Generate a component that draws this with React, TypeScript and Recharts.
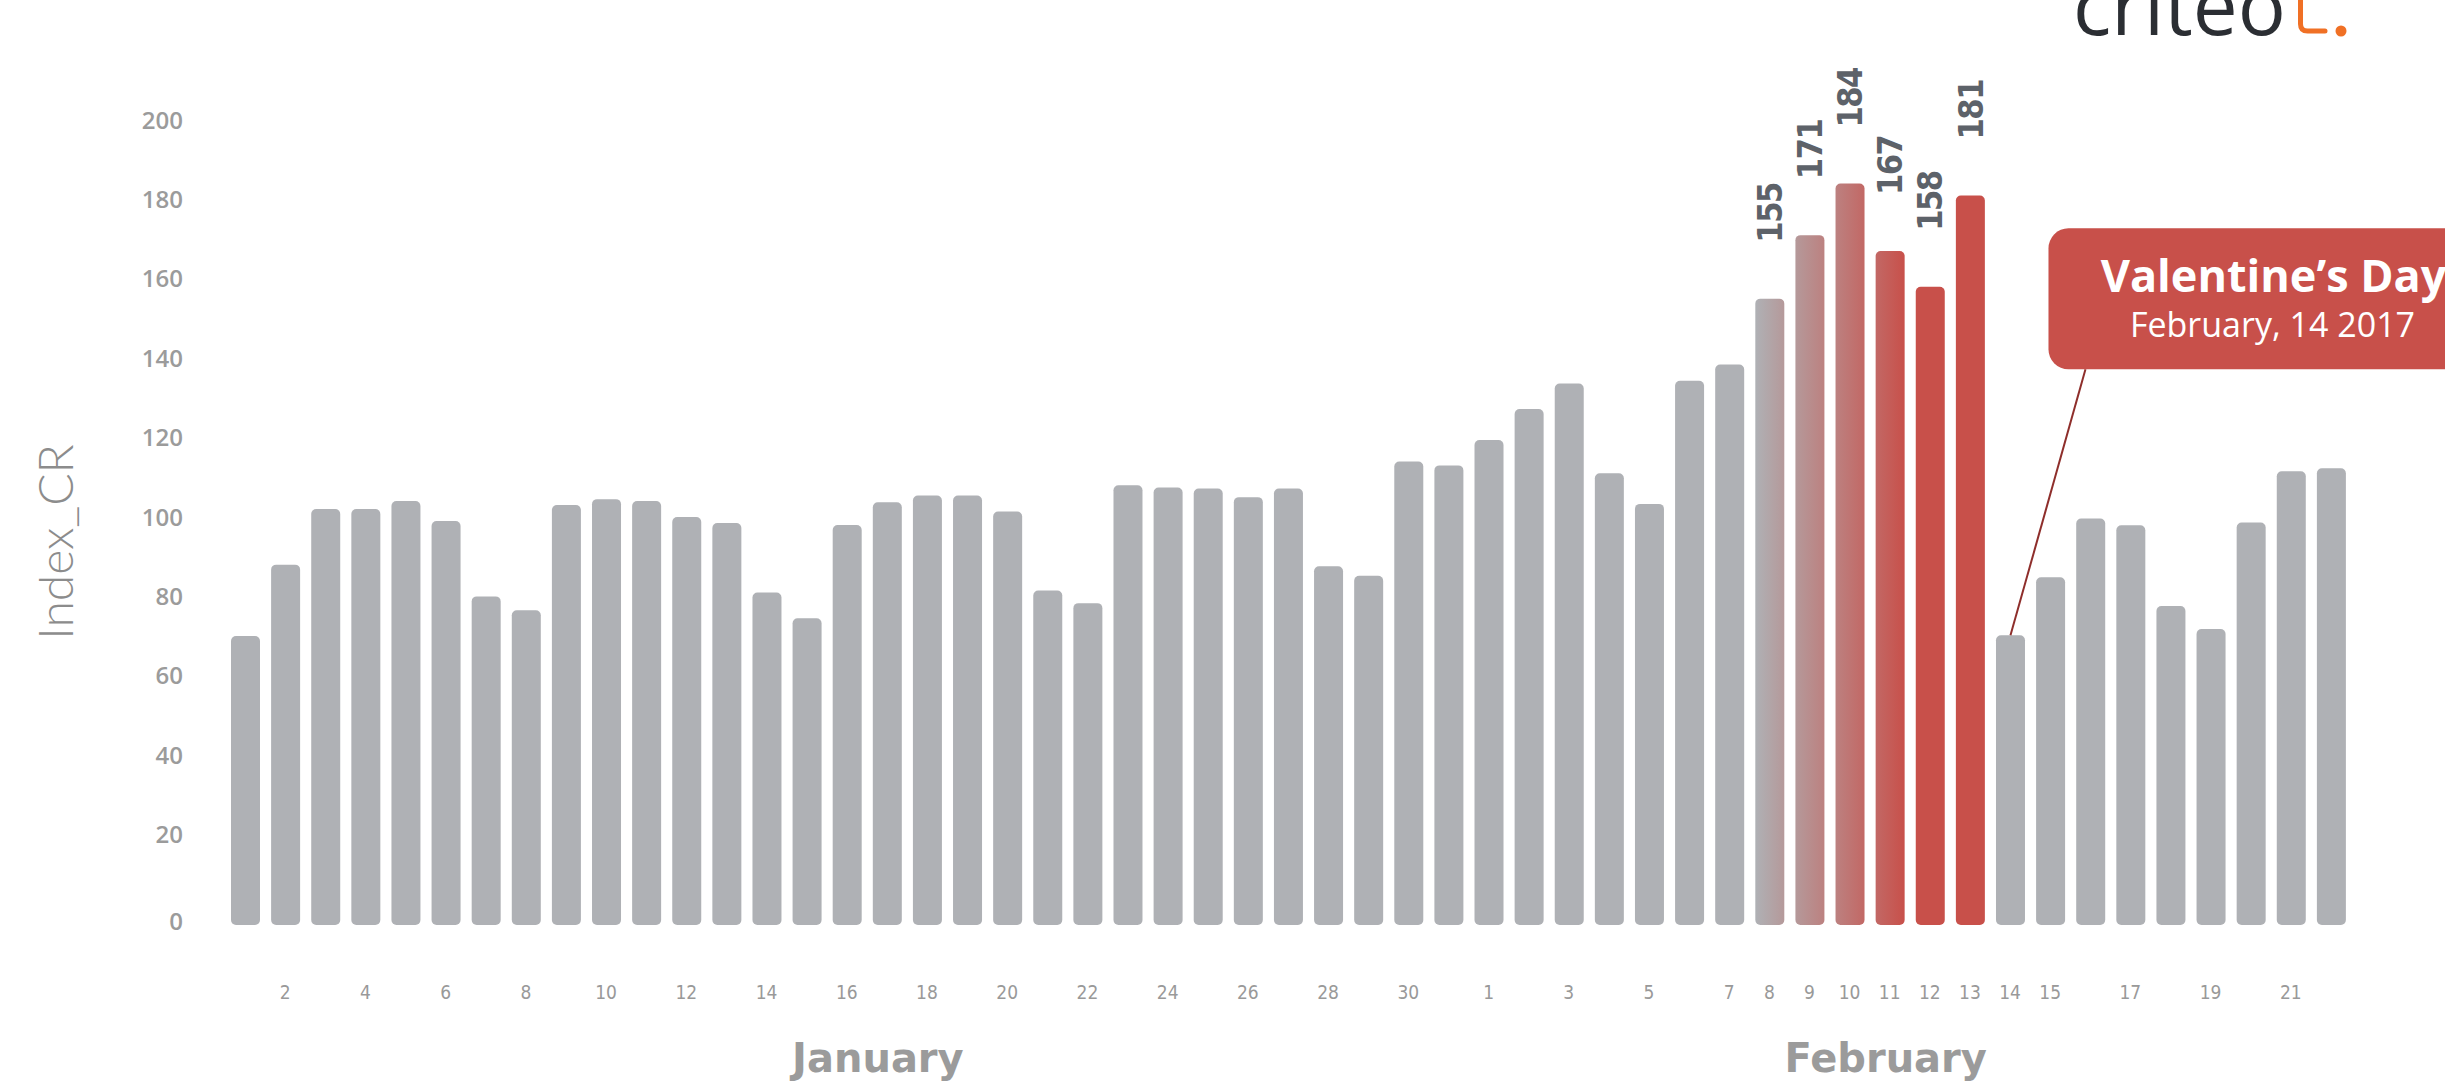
import React from 'react';
import { BarChart, Bar, XAxis, YAxis } from 'recharts';

// ---------- data ----------
const janDays = [1, 2, 3, 4, 5, 6, 7, 8, 9, 10, 11, 12, 13, 14, 15, 16, 17, 18, 19, 20, 21, 22, 23, 24, 25, 26, 27, 28, 29, 30, 31];
const febDays = [1, 2, 3, 4, 5, 6, 7, 8, 9, 10, 11, 12, 13, 14, 15, 16, 17, 18, 19, 20, 21, 22];

const janValues = [70, 88, 102, 102, 104, 99, 80, 76.5, 103, 104.5, 104, 100, 98.5, 81, 74.5, 98, 103.7, 105.4, 105.4, 101.4, 81.5, 78.3, 108, 107.4, 107.2, 105, 107.2, 87.6, 85.2, 114, 113];
const febValues = [119.4, 127.2, 133.6, 111, 103.3, 134.3, 138.4, 155, 171, 184, 167, 158, 181, 70.2, 84.8, 99.6, 97.9, 77.6, 71.8, 98.6, 111.5, 112.3];

const shownTicks = [
  'Jan-2', 'Jan-4', 'Jan-6', 'Jan-8', 'Jan-10', 'Jan-12', 'Jan-14', 'Jan-16', 'Jan-18', 'Jan-20',
  'Jan-22', 'Jan-24', 'Jan-26', 'Jan-28', 'Jan-30',
  'Feb-1', 'Feb-3', 'Feb-5', 'Feb-7', 'Feb-8', 'Feb-9', 'Feb-10', 'Feb-11', 'Feb-12', 'Feb-13',
  'Feb-14', 'Feb-15', 'Feb-17', 'Feb-19', 'Feb-21',
];
const yTicks = [0, 20, 40, 60, 80, 100, 120, 140, 160, 180, 200];
const labeledKeys = ['Feb-8', 'Feb-9', 'Feb-10', 'Feb-11', 'Feb-12', 'Feb-13'];
const fadeKeys = ['Feb-8', 'Feb-9', 'Feb-10', 'Feb-11'];
const redKeys = ['Feb-12', 'Feb-13'];
const calloutKey = 'Feb-14';
const monthLabels = [
  { key: 'Jan-17', text: 'January', dx: -9 },
  { key: 'Feb-11', text: 'February', dx: -4 },
];

const data = [
  ...janDays.map((d, i) => ({ key: `Jan-${d}`, day: d, value: janValues[i] })),
  ...febDays.map((d, i) => ({ key: `Feb-${d}`, day: d, value: febValues[i] })),
];

// ---------- styles ----------
const GREY: [number, number, number] = [175, 177, 181];
const RED: [number, number, number] = [200, 80, 74];
const mix = (t: number) =>
  `rgb(${GREY.map((g, i) => Math.round(g + (RED[i] - g) * t)).join(',')})`;

const BarShape = (props: any) => {
  const { x, y, width, height, index } = props;
  const key = data[index].key;
  const h = height + 11;
  let fill = 'rgb(175,177,181)';
  let defs: any = null;
  const fi = fadeKeys.indexOf(key);
  if (fi >= 0) {
    const id = `grad-${index}`;
    defs = (
      <defs>
        <linearGradient id={id} x1="0" y1="0" x2="1" y2="0">
          <stop offset="0" stopColor={mix(fi / 4)} />
          <stop offset="1" stopColor={mix((fi + 1) / 4)} />
        </linearGradient>
      </defs>
    );
    fill = `url(#${id})`;
  } else if (redKeys.includes(key)) {
    fill = mix(1);
  }
  const cx = x + width / 2;
  const showLabel = labeledKeys.includes(key);
  const ly = y - 56;
  return (
    <g>
      {defs}
      <rect x={x} y={y} width={width} height={h} rx={5} ry={5} fill={fill} />
      {showLabel && (
        <text
          x={cx}
          y={ly}
          dy="0.36em"
          transform={`rotate(-90 ${cx} ${ly})`}
          textAnchor="start"
          fill="#5d6269"
          fontFamily="'DejaVu Sans Condensed', 'DejaVu Sans', sans-serif"
          fontStretch="condensed"
          fontWeight={700}
          fontSize={34}
          letterSpacing={-1.5}
        >
          {data[index].value}
        </text>
      )}
      {key === calloutKey && (
        <g>
          <line x1={cx} y1={y} x2={cx + 75} y2={y - 266} stroke="#8e2e2b" strokeWidth={2} />
          <rect x={cx + 38} y={y - 407} width={520} height={141} rx={20} ry={20} fill="#c8504a" />
          <text
            x={cx + 263}
            y={y - 343}
            textAnchor="middle"
            fill="#ffffff"
            fontFamily="'Open Sans', sans-serif"
            fontWeight={700}
            fontSize={45}
          >
            Valentine’s Day
          </text>
          <text
            x={cx + 262}
            y={y - 298}
            textAnchor="middle"
            fill="#ffffff"
            fontFamily="'Open Sans', sans-serif"
            fontWeight={400}
            fontSize={34}
          >
            February, 14 2017
          </text>
        </g>
      )}
    </g>
  );
};

const YTick = (props: any) => {
  const { x, y, payload } = props;
  return (
    <text
      x={x}
      y={y + (payload.value === 0 ? 7 : 0)}
      dy="0.36em"
      textAnchor="end"
      fill="#9b9b9b"
      fontFamily="'Open Sans', sans-serif"
      fontWeight={600}
      fontSize={24}
    >
      {payload.value}
    </text>
  );
};

const XTick = (props: any) => {
  const { x, y, payload } = props;
  const key = payload.value as string;
  const item = data.find((d) => d.key === key);
  const month = monthLabels.find((m) => m.key === key);
  return (
    <g>
      {shownTicks.includes(key) && item && (
        <text
          x={x}
          y={y + 78}
          dy="0.36em"
          textAnchor="middle"
          fill="#999999"
          fontFamily="'DejaVu Sans Condensed', 'DejaVu Sans', sans-serif"
          fontStretch="condensed"
          fontSize={19}
        >
          {item.day}
        </text>
      )}
      {month && (
        <text
          x={x + month.dx}
          y={y + 158}
          textAnchor="middle"
          fill="#9b9b9b"
          fontFamily="'DejaVu Sans', sans-serif"
          fontWeight={700}
          fontSize={40}
        >
          {month.text}
        </text>
      )}
    </g>
  );
};

const AxisTitle = (props: any) => {
  const vb = props.viewBox || { x: 0, y: 120, width: 225, height: 794 };
  const tx = vb.x + 56;
  const ty = vb.y + vb.height / 2 + 25;
  return (
    <text
      x={tx}
      y={ty}
      dy="0.36em"
      transform={`rotate(-90 ${tx} ${ty})`}
      textAnchor="middle"
      fill="#8c8c8c"
      fontFamily="'Lato', sans-serif"
      fontWeight={300}
      fontSize={48}
    >
      Index_CR
    </text>
  );
};

const Logo = () => (
  <svg
    width={2445}
    height={1087}
    style={{ position: 'absolute', left: 0, top: 0, pointerEvents: 'none' }}
  >
    <text
      x={2073}
      y={35}
      fill="#2b2e33"
      fontFamily="'Open Sans', sans-serif"
      fontWeight={400}
      fontSize={80}
    >
      criteo
    </text>
    <path
      d="M2300.5 0 V24 Q2300.5 31 2307.5 31 H2325"
      stroke="#f07025"
      strokeWidth={5}
      fill="none"
      strokeLinecap="round"
    />
    <circle cx={2341} cy={31} r={5.5} fill="#f07025" />
  </svg>
);

export default function App() {
  return (
    <div style={{ position: 'absolute', left: 0, top: 0, width: 2445, height: 1087, background: '#fff' }}>
      <BarChart
        width={2445}
        height={1087}
        data={data}
        margin={{ top: 120, right: 94, bottom: 0, left: 0 }}
      >
        <XAxis
          dataKey="key"
          height={173}
          interval={0}
          axisLine={false}
          tickLine={false}
          tickSize={0}
          tickMargin={0}
          tick={<XTick />}
        />
        <YAxis
          width={225}
          domain={[0, 200]}
          ticks={yTicks}
          axisLine={false}
          tickLine={false}
          tickSize={0}
          tickMargin={42}
          tick={<YTick />}
          label={<AxisTitle />}
        />
        <Bar dataKey="value" barSize={29} shape={<BarShape />} isAnimationActive={false} />
      </BarChart>
      <Logo />
    </div>
  );
}
